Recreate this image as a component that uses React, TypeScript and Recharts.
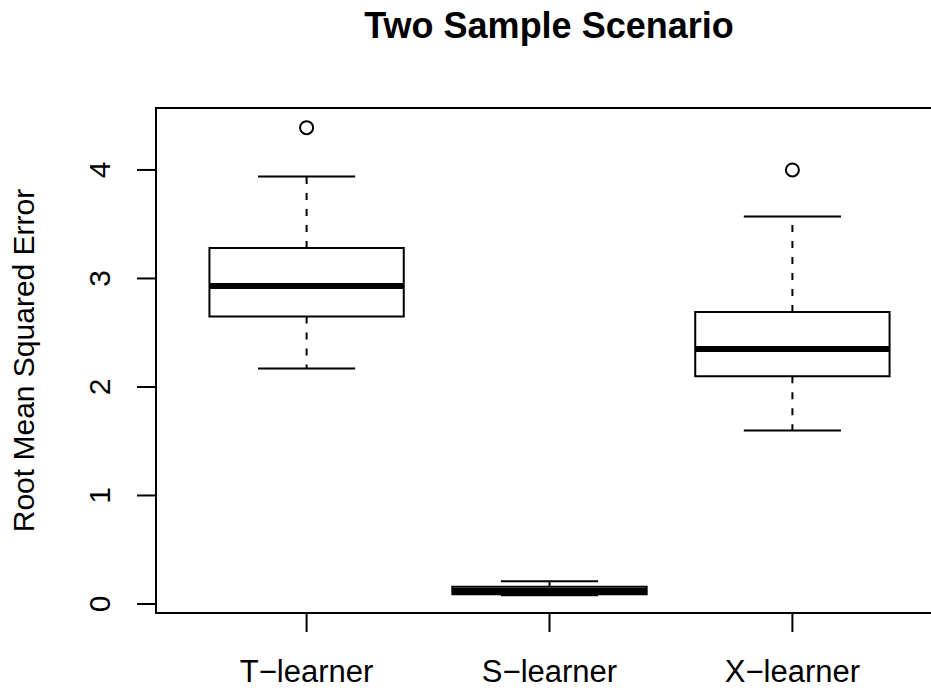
import React from "react"
import {
  ComposedChart,
  Scatter,
  XAxis,
  YAxis,
  ReferenceArea,
  ReferenceLine,
} from "recharts"

// Box plot statistics, one entry per learner (x position = index + 1)
const learners = ["T\u2212learner", "S\u2212learner", "X\u2212learner"]
const lowerWhisker = [2.17, 0.08, 1.6]
const lowerQuartile = [2.65, 0.09, 2.1]
const medians = [2.93, 0.12, 2.35]
const upperQuartile = [3.28, 0.16, 2.69]
const upperWhisker = [3.94, 0.21, 3.57]

// Points beyond the whiskers
const outlierGroup = [1, 3]
const outlierValue = [4.39, 4.0]

const yTicks = [0, 1, 2, 3, 4]
const xDomain: [number, number] = [0.38, 3.62]
const yDomain: [number, number] = [-0.083, 4.571]

const BOX_HALF = 0.4
const CAP_HALF = 0.2
const FONT = '"Liberation Sans", Arial, Helvetica, sans-serif'

const outliers = outlierGroup.map((g, i) => ({ x: g, y: outlierValue[i] }))

function YTick(props: any) {
  const { x, y, payload } = props
  return (
    <text
      x={x}
      y={y}
      transform={`rotate(-90, ${x}, ${y})`}
      textAnchor="middle"
      fontFamily={FONT}
      fontSize={30}
      fill="#000"
    >
      {payload.value}
    </text>
  )
}

function XTick(props: any) {
  const { x, y, payload } = props
  return (
    <text x={x} y={y} textAnchor="middle" fontFamily={FONT} fontSize={31} fill="#000">
      {learners[payload.value - 1]}
    </text>
  )
}

function YTitle(props: any) {
  const vb = props.viewBox
  const cx = 34
  const cy = vb.y + vb.height / 2
  return (
    <text
      x={cx}
      y={cy}
      transform={`rotate(-90, ${cx}, ${cy})`}
      textAnchor="middle"
      fontFamily={FONT}
      fontSize={30}
      fill="#000"
    >
      Root Mean Squared Error
    </text>
  )
}

const OpenCircle = (props: any) => (
  <circle cx={props.cx} cy={props.cy} r={6.5} fill="none" stroke="#000" strokeWidth={2} />
)

export default function App() {
  const line = { stroke: "#000", strokeWidth: 2 }

  return (
    <div
      style={{
        position: "absolute",
        left: 0,
        top: 0,
        width: 931,
        height: 690,
        overflow: "hidden",
        background: "#fff",
      }}
    >
      <div
        style={{
          position: "absolute",
          left: 549,
          top: 8,
          transform: "translateX(-50%)",
          whiteSpace: "nowrap",
          fontFamily: FONT,
          fontWeight: "bold",
          fontSize: 36,
          lineHeight: "36px",
        }}
      >
        Two Sample Scenario
      </div>
      <ComposedChart
        width={960}
        height={690}
        data={outliers}
        margin={{ top: 108, right: 17, bottom: 0, left: 0 }}
      >
        <XAxis
          type="number"
          dataKey="x"
          domain={xDomain}
          ticks={[1, 2, 3]}
          allowDataOverflow
          height={77}
          axisLine={false}
          tickLine={{ stroke: "#000", strokeWidth: 2 }}
          tickSize={19}
          tickMargin={50}
          tick={<XTick />}
        />
        <YAxis
          type="number"
          dataKey="y"
          domain={yDomain}
          ticks={yTicks}
          allowDataOverflow
          width={156}
          axisLine={false}
          tickLine={{ stroke: "#000", strokeWidth: 2 }}
          tickSize={19}
          tickMargin={27}
          tick={<YTick />}
          label={<YTitle />}
        />

        {/* plot frame */}
        <ReferenceArea
          x1={xDomain[0]}
          x2={xDomain[1]}
          y1={yDomain[0]}
          y2={yDomain[1]}
          fill="none"
          stroke="#000"
          strokeWidth={2}
          ifOverflow="visible"
        />

        {learners.map((_, i) => {
          const c = i + 1
          return (
            <React.Fragment key={i}>
              {/* dashed whiskers, drawn outward from the box */}
              <ReferenceLine
                segment={[{ x: c, y: upperQuartile[i] }, { x: c, y: upperWhisker[i] }]}
                {...line}
                strokeDasharray="7 9"
              />
              <ReferenceLine
                segment={[{ x: c, y: lowerQuartile[i] }, { x: c, y: lowerWhisker[i] }]}
                {...line}
                strokeDasharray="7 9"
              />
              {/* whisker caps */}
              <ReferenceLine
                segment={[{ x: c - CAP_HALF, y: upperWhisker[i] }, { x: c + CAP_HALF, y: upperWhisker[i] }]}
                {...line}
              />
              <ReferenceLine
                segment={[{ x: c - CAP_HALF, y: lowerWhisker[i] }, { x: c + CAP_HALF, y: lowerWhisker[i] }]}
                {...line}
              />
              {/* box */}
              <ReferenceArea
                x1={c - BOX_HALF}
                x2={c + BOX_HALF}
                y1={lowerQuartile[i]}
                y2={upperQuartile[i]}
                fill="#fff"
                fillOpacity={1}
                stroke="#000"
                strokeWidth={2}
              />
              {/* median */}
              <ReferenceLine
                segment={[{ x: c - BOX_HALF, y: medians[i] }, { x: c + BOX_HALF, y: medians[i] }]}
                stroke="#000"
                strokeWidth={6}
              />
            </React.Fragment>
          )
        })}

        <Scatter data={outliers} dataKey="y" shape={<OpenCircle />} isAnimationActive={false} />
      </ComposedChart>
    </div>
  )
}
